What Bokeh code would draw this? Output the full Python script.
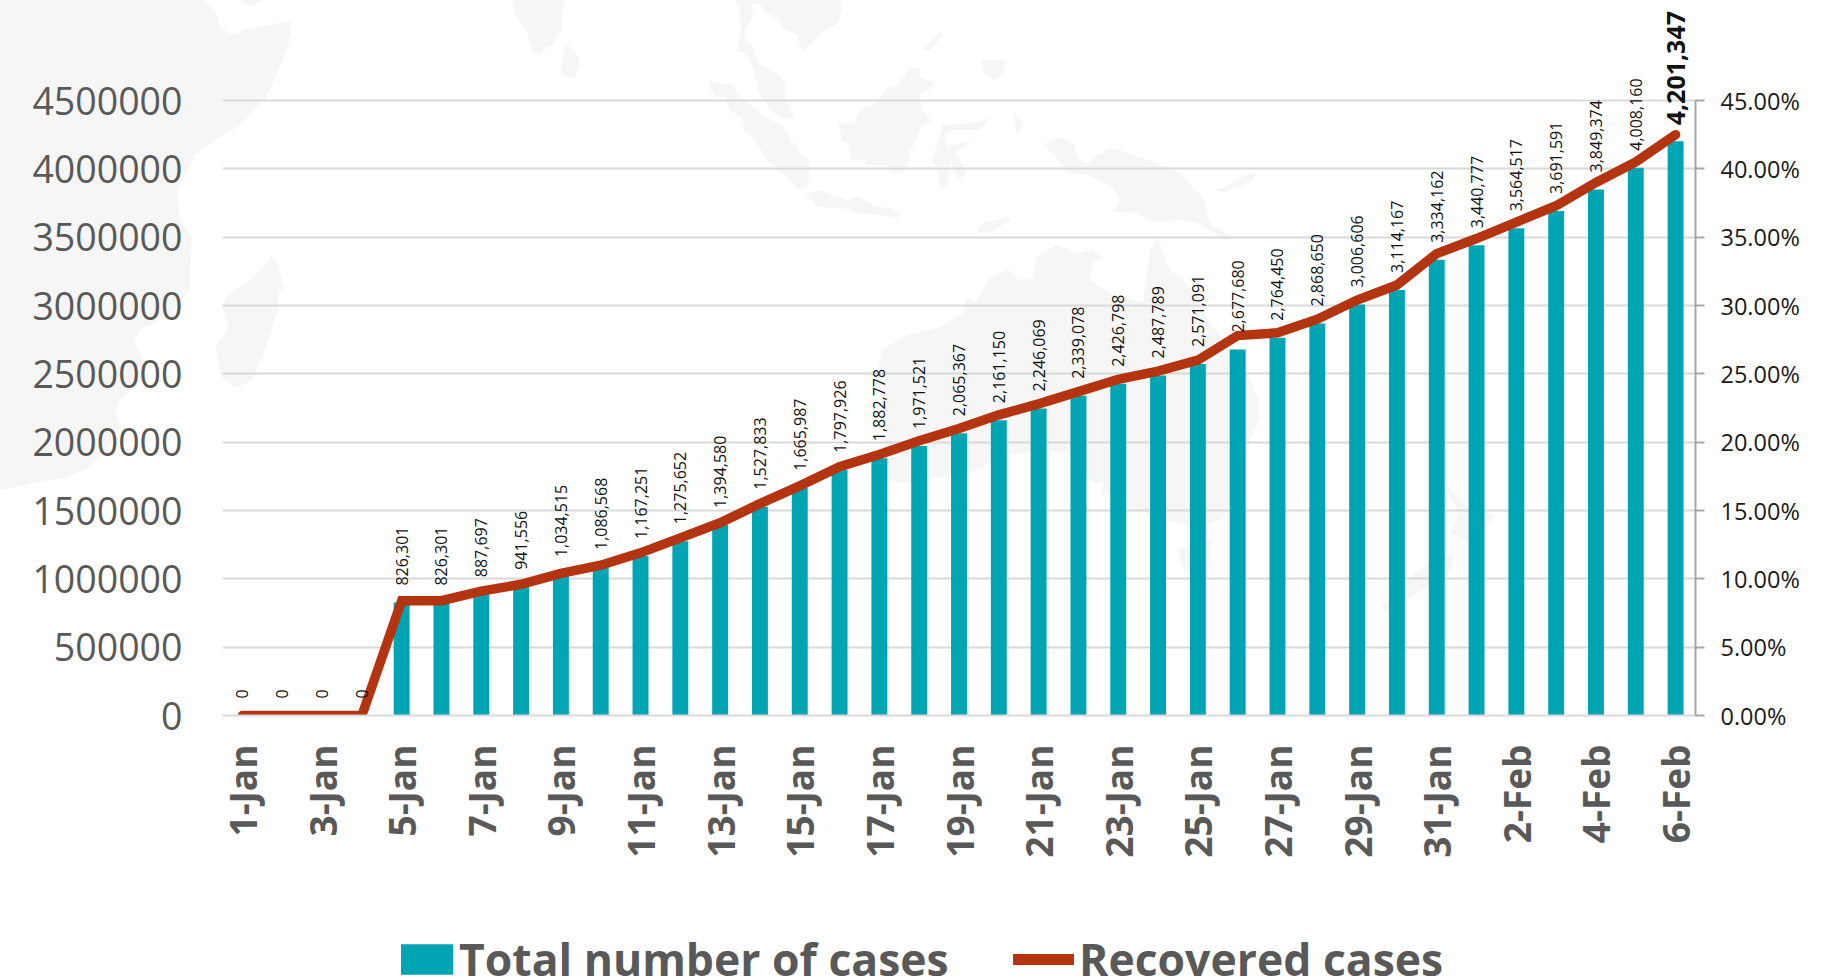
import math
from urllib.parse import quote
from bokeh.core.properties import value
from bokeh.embed import file_html
from bokeh.layouts import column
from bokeh.resources import INLINE
from bokeh.plotting import figure
from bokeh.models import (ColumnDataSource, LinearAxis, Range1d, FixedTicker, NumeralTickFormatter,
                          LabelSet, Legend, LegendItem)

DATES = ["1-Jan","2-Jan","3-Jan","4-Jan","5-Jan","6-Jan","7-Jan","8-Jan","9-Jan","10-Jan","11-Jan","12-Jan",
         "13-Jan","14-Jan","15-Jan","16-Jan","17-Jan","18-Jan","19-Jan","20-Jan","21-Jan","22-Jan","23-Jan",
         "24-Jan","25-Jan","26-Jan","27-Jan","28-Jan","29-Jan","30-Jan","31-Jan","1-Feb","2-Feb","3-Feb",
         "4-Feb","5-Feb","6-Feb"]
TOTAL_CASES = [0,0,0,0,826301,826301,887697,941556,1034515,1086568,1167251,1275652,1394580,1527833,
               1665987,1797926,1882778,1971521,2065367,2161150,2246069,2339078,2426798,2487789,2571091,
               2677680,2764450,2868650,3006606,3114167,3334162,3440777,3564517,3691591,3849374,4008160,4201347]
RECOVERED = [0,0,0,0,.084,.084,.091,.096,.104,.110,.119,.130,.141,.155,.168,.182,.191,.201,.210,.220,.228,
             .237,.246,.252,.260,.278,.280,.290,.304,.315,.338,.349,.361,.373,.390,.405,.425]
Y_TICKS = [0,500000,1000000,1500000,2000000,2500000,3000000,3500000,4000000,4500000]
Y2_TICKS = [0,.05,.10,.15,.20,.25,.30,.35,.40,.45]

# faint decorative world-map backdrop, in page pixels
MAP = [
 [(0,0),(203,0),(215,12),(217,15),(220,28),(232,34),(245,30),(290,21),(291,35),(285,55),(265,100),(253,110),(240,125),
  (215,140),(195,155),(185,175),(178,190),(180,220),(192,238),(190,275),(190,290),(170,315),(140,330),(134,340),
  (143,360),(143,380),(120,400),(115,410),(120,425),(110,445),(85,470),(65,478),(40,482),(0,490)],
 [(240,0),(265,0),(250,6)],
 [(271,255),(278,265),(284,290),(278,291),(278,310),(265,350),(252,380),(235,388),(220,375),(218,358),(215,345),
  (225,335),(228,325),(222,305),(228,295),(250,280),(268,262)],
 [(512,0),(516,15),(527,33),(533,52),(539,56),(545,49),(552,45),(557,35),(562,32),(562,20),(564,0)],
 [(565,41),(570,48),(579,57),(580,67),(575,76),(568,78),(562,74),(561,68),(565,50)],
 [(735,0),(740,13),(741,30),(737,52),(745,52),(753,68),(760,95),(772,112),(787,120),(794,118),(790,107),(785,98),
  (785,82),(780,76),(758,63),(753,47),(745,40),(745,30),(753,17),(752,4),(760,4),(765,13),(778,18),(783,28),(798,35),
  (800,48),(803,51),(813,42),(822,32),(838,23),(842,10),(841,0)],
 [(708,80),(718,83),(732,85),(742,98),(753,107),(765,117),(783,125),(785,131),(789,133),(790,142),(795,144),(800,153),
  (809,160),(809,177),(807,187),(798,190),(788,178),(767,160),(753,137),(745,132),(742,117),(730,110),(725,97),(717,97),(709,87)],
 [(805,197),(810,192),(822,191),(847,200),(857,196),(877,207),(888,208),(902,213),(897,218),(890,217),(853,212),(850,209),
  (818,207),(812,200)],
 [(838,123),(853,123),(862,108),(875,104),(888,87),(897,86),(910,68),(919,68),(920,77),(933,82),(933,87),(919,95),(922,110),
  (932,122),(922,125),(915,143),(908,152),(910,160),(902,173),(892,172),(887,165),(867,165),(865,160),(852,160),(848,143),(842,140)],
 [(990,118),(980,130),(953,130),(945,135),(947,147),(973,140),(955,152),(967,173),(958,180),(950,160),(947,187),(940,188),
  (937,167),(932,160),(943,125),(973,123)],
 [(1043,145),(1060,137),(1075,145),(1077,157),(1088,165),(1097,155),(1113,148),(1147,160),(1180,173),(1195,190),(1203,197),
  (1210,225),(1233,237),(1228,240),(1195,222),(1180,220),(1153,222),(1137,213),(1113,212),(1120,200),(1113,187),(1087,175),
  (1067,172),(1057,158)],
 [(1213,190),(1225,192),(1250,182),(1258,173),(1245,175),(1225,188)],
 [(976,230),(985,222),(1010,217),(1010,220),(990,232),(980,234)],
 [(923,50),(940,32),(943,35),(930,50)],
 [(982,60),(1005,60),(1003,73),(995,80),(983,73)],
 [(1013,112),(1023,123),(1018,137),(1015,125)],
 [(882,350),(907,335),(940,327),(963,313),(967,297),(975,303),(990,278),(1008,269),(1018,280),(1032,278),(1037,257),(1057,245),
  (1077,253),(1092,250),(1102,257),(1093,263),(1090,280),(1110,293),(1143,303),(1150,250),(1158,238),(1167,263),(1173,273),
  (1182,277),(1210,323),(1247,373),(1259,400),(1259,420),(1247,447),(1235,493),(1222,520),(1194,527),(1165,520),(1129,507),
  (1124,493),(1100,495),(1104,483),(1092,483),(1071,453),(1043,450),(1002,457),(978,470),(941,477),(900,483),(880,478),(885,440),
  (880,400),(878,370)],
 [(1178,550),(1210,540),(1211,560),(1194,573),(1182,567)],
 [(1443,483),(1455,493),(1467,507),(1494,515),(1484,530),(1467,540),(1451,533),(1459,513)],
 [(1453,553),(1451,570),(1422,590),(1386,613),(1382,607),(1410,577),(1431,563)],
]

FONT = "Open Sans"
GREY = "#595959"
TEAL = "#00A5B4"
RUST = "#B43410"
GRID = "#D9D9D9"
W, H = 1841, 980
LEGEND_H = 100
FRAME_L, FRAME_R, ZERO_Y, TOP_TICK_Y = 222, 1695, 715, 100

xs = list(range(len(DATES)))
src = ColumnDataSource(dict(x=xs, total=TOTAL_CASES, rec=RECOVERED))
src_mid = ColumnDataSource(dict(x=xs[:-1], total=TOTAL_CASES[:-1], lab=[f"{v:,}" for v in TOTAL_CASES[:-1]]))
src_last = ColumnDataSource(dict(x=xs[-1:], total=TOTAL_CASES[-1:], lab=[f"{v:,}" for v in TOTAL_CASES[-1:]]))

head = ZERO_Y / (ZERO_Y - TOP_TICK_Y)
p = figure(frame_width=FRAME_R - FRAME_L, frame_height=ZERO_Y, width=None, height=None,
           output_backend="svg", toolbar_location=None,
           x_range=Range1d(-0.5, len(DATES) - 0.5), y_range=Range1d(0, Y_TICKS[-1] * head),
           min_border_left=FRAME_L, min_border_right=W - FRAME_R, min_border_top=0,
           min_border_bottom=H - LEGEND_H - ZERO_Y,
           outline_line_color=None, background_fill_color=None, border_fill_color=None)
p.extra_y_ranges = {"pct": Range1d(0, Y2_TICKS[-1] * head)}

shapes = "".join('<polygon points="%s"/>' % " ".join(f"{a},{b}" for a, b in poly) for poly in MAP)
svg = f'<svg xmlns="http://www.w3.org/2000/svg" width="{W}" height="{H}"><g fill="#F6F6F6">{shapes}</g></svg>'
p.styles = {"background-image": f'url("data:image/svg+xml,{quote(svg)}")', "background-repeat": "no-repeat"}

bars = p.vbar(x="x", top="total", bottom=0, width=0.4, source=src, fill_color=TEAL, line_color=None)
line = p.line(x="x", y="rec", source=src, y_range_name="pct", line_color=RUST, line_width=9.5,
              line_cap="round", line_join="miter")

xa = p.xaxis[0]
xa.ticker = FixedTicker(ticks=xs[::2])
xa.major_label_overrides = {i: DATES[i] for i in xs[::2]}
xa.major_label_orientation = math.pi / 2
xa.major_label_text_font = FONT
xa.major_label_text_font_style = "bold"
xa.major_label_text_font_size = "37px"
xa.major_label_text_color = GREY
xa.major_label_standoff = 23
xa.major_tick_line_color = None
xa.minor_tick_line_color = None
xa.axis_line_color = GRID
xa.axis_line_width = 2

ya = p.yaxis[0]
ya.ticker = FixedTicker(ticks=Y_TICKS)
ya.formatter = NumeralTickFormatter(format="0")
ya.major_label_text_font = FONT
ya.major_label_text_font_size = "37.5px"
ya.major_label_text_color = GREY
ya.major_label_standoff = 34
ya.major_tick_line_color = None
ya.minor_tick_line_color = None
ya.axis_line_color = None

ra = LinearAxis(y_range_name="pct", ticker=FixedTicker(ticks=Y2_TICKS), formatter=NumeralTickFormatter(format="0.00%"),
                bounds=(Y2_TICKS[0], Y2_TICKS[-1]))
ra.major_label_text_font = FONT
ra.major_label_text_font_size = "23.5px"
ra.major_label_text_color = "#1A1A1A"
ra.major_label_standoff = 16
ra.major_tick_in = 0
ra.major_tick_out = 9
ra.major_tick_line_color = "#A6A6A6"
ra.major_tick_line_width = 2
ra.minor_tick_line_color = None
ra.axis_line_color = "#A6A6A6"
ra.axis_line_width = 2
p.add_layout(ra, "right")

p.xgrid.visible = False
p.ygrid.ticker = FixedTicker(ticks=Y_TICKS)
p.ygrid.grid_line_color = GRID
p.ygrid.grid_line_width = 2

p.add_layout(LabelSet(x="x", y="total", text="lab", source=src_mid, angle=math.pi / 2, y_offset=17,
                      text_align="left", text_baseline="middle", text_font=value(FONT), text_font_size="16px",
                      text_color="#111111"))
p.add_layout(LabelSet(x="x", y="total", text="lab", source=src_last, angle=math.pi / 2, y_offset=16,
                      text_align="left", text_baseline="middle", text_font=value(FONT), text_font_size="25px",
                      text_font_style="bold", text_color="#111111"))

# the legend strip is its own figure, whose frame fills the strip, so the keys are not clipped;
# its two legend-only glyphs lie outside the strip's ranges
q = figure(width=W, height=LEGEND_H, output_backend="svg", toolbar_location=None,
           x_axis_type=None, y_axis_type=None, x_range=Range1d(0, 1), y_range=Range1d(0, 1),
           min_border=0, outline_line_color=None, background_fill_color=None, border_fill_color=None)
q.xgrid.visible = False
q.ygrid.visible = False
key_bar = q.vbar(x=[-5], top=[-5], bottom=[-6], width=0.4, fill_color=TEAL, line_color=None)
key_line = q.line(x=[-5, -4], y=[-5, -5], line_color=RUST, line_width=11, line_cap="round")

def add_legend(label, renderer, loc, gw, gh, standoff):
    lg = Legend(items=[LegendItem(label=label, renderers=[renderer])], location=loc, orientation="horizontal",
                glyph_width=gw, glyph_height=gh,
                label_text_font=FONT, label_text_font_size="44.5px", label_text_font_style="bold",
                label_text_color=GREY, label_standoff=standoff, padding=0, margin=0, spacing=0,
                border_line_color=None, background_fill_color=None, background_fill_alpha=0,
                label_height=30, click_policy="none")
    q.add_layout(lg, "center")

add_legend("Total number of cases", key_bar, (172, -9), 65, 38, 0)
add_legend("Recovered cases", key_line, (791, -9), 61, 30, 5)

page = column(p, q, spacing=0)
open("out.html", "w").write(file_html(page, INLINE))
